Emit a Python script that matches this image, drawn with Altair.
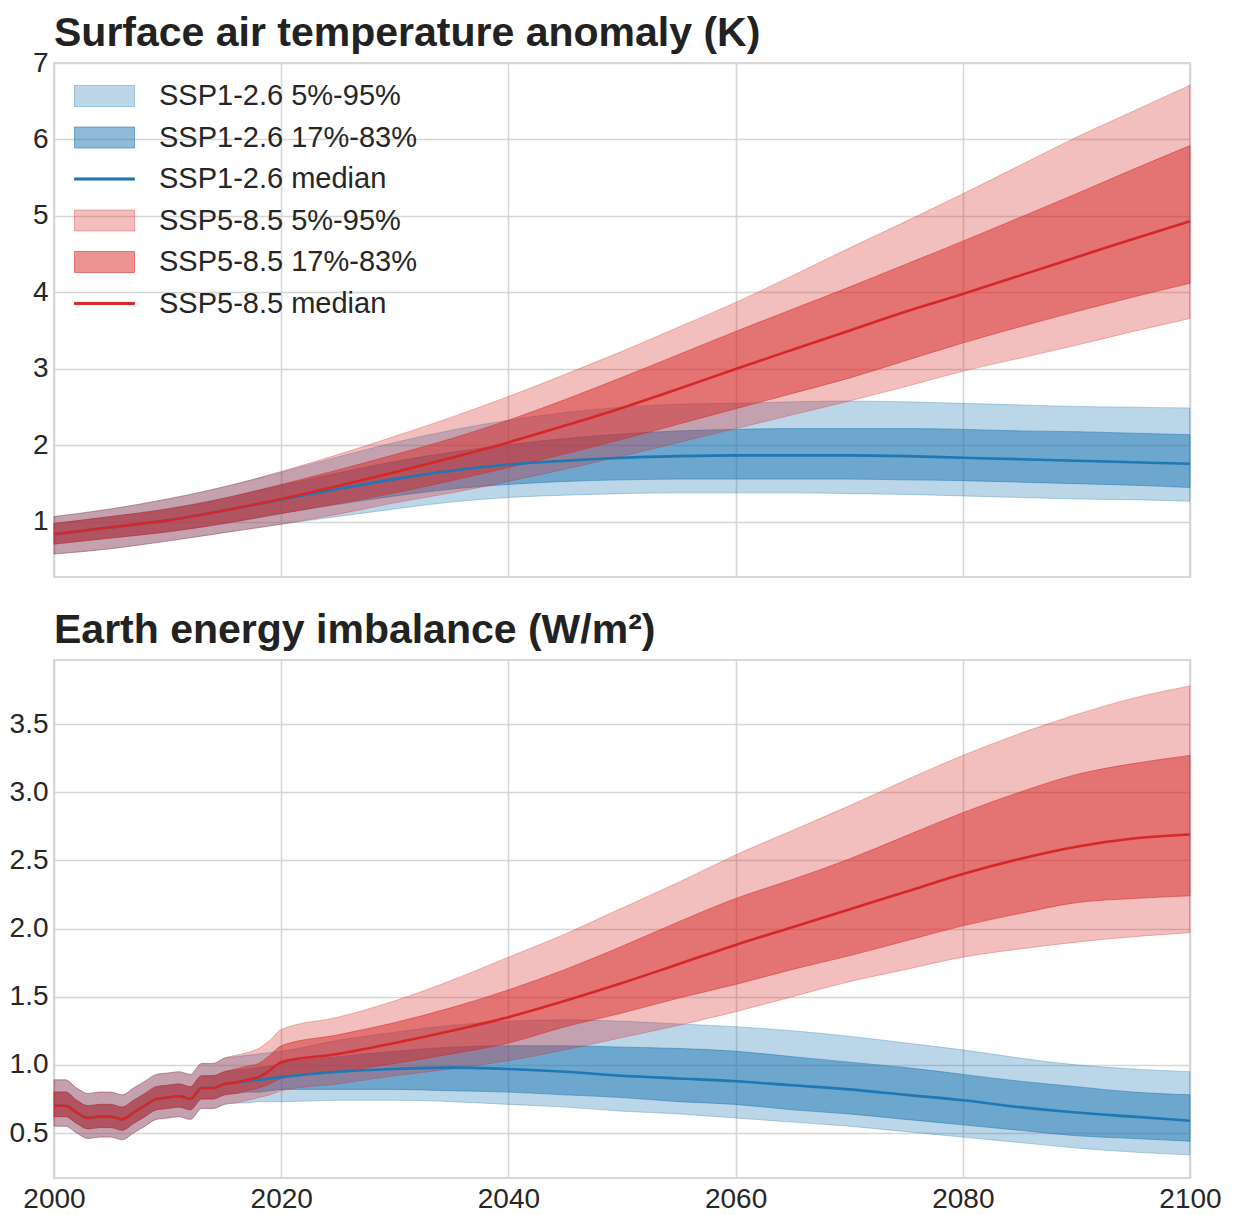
import altair as alt
import pandas as pd

FONT = "Liberation Sans"
BLUE = "#1f77b4"
RED = "#d62728"

labels = ["SSP1-2.6 5%-95%", "SSP1-2.6 17%-83%", "SSP1-2.6 median",
          "SSP5-8.5 5%-95%", "SSP5-8.5 17%-83%", "SSP5-8.5 median"]

# ---- Surface air temperature anomaly (K) ----
years_tas = [2000, 2005, 2010, 2015, 2020, 2025, 2030, 2035, 2040, 2045, 2050,
             2055, 2060, 2065, 2070, 2075, 2080, 2085, 2090, 2095, 2100]
tas_126_p05 = [0.58, 0.65, 0.75, 0.86, 0.97, 1.07, 1.17, 1.26, 1.32, 1.35, 1.37, 1.38, 1.38, 1.38, 1.37, 1.36, 1.34, 1.32, 1.30, 1.29, 1.27]
tas_126_p17 = [0.71, 0.79, 0.87, 0.98, 1.11, 1.23, 1.34, 1.43, 1.49, 1.53, 1.55, 1.56, 1.56, 1.56, 1.56, 1.55, 1.54, 1.52, 1.50, 1.48, 1.45]
tas_126_p50 = [0.84, 0.93, 1.02, 1.15, 1.29, 1.43, 1.56, 1.67, 1.75, 1.80, 1.84, 1.86, 1.87, 1.87, 1.87, 1.86, 1.84, 1.82, 1.80, 1.78, 1.76]
tas_126_p83 = [0.98, 1.07, 1.17, 1.31, 1.48, 1.64, 1.79, 1.91, 2.01, 2.09, 2.15, 2.19, 2.21, 2.22, 2.22, 2.22, 2.21, 2.19, 2.18, 2.16, 2.14]
tas_126_p95 = [1.07, 1.17, 1.30, 1.46, 1.65, 1.85, 2.04, 2.20, 2.33, 2.43, 2.50, 2.54, 2.55, 2.57, 2.58, 2.57, 2.55, 2.53, 2.51, 2.50, 2.49]

tas_585_p05 = [0.58, 0.65, 0.75, 0.86, 0.97, 1.10, 1.25, 1.38, 1.53, 1.69, 1.86, 2.04, 2.22, 2.40, 2.58, 2.77, 2.97, 3.14, 3.31, 3.49, 3.66]
tas_585_p17 = [0.71, 0.79, 0.87, 0.98, 1.11, 1.24, 1.38, 1.54, 1.71, 1.89, 2.08, 2.28, 2.48, 2.68, 2.88, 3.11, 3.34, 3.55, 3.75, 3.94, 4.12]
tas_585_p50 = [0.84, 0.93, 1.02, 1.15, 1.30, 1.47, 1.65, 1.84, 2.04, 2.26, 2.49, 2.74, 3.00, 3.25, 3.50, 3.75, 3.98, 4.22, 4.46, 4.70, 4.93]
tas_585_p83 = [0.98, 1.07, 1.17, 1.31, 1.49, 1.68, 1.88, 2.09, 2.33, 2.60, 2.89, 3.19, 3.49, 3.78, 4.07, 4.37, 4.67, 4.98, 5.29, 5.61, 5.92]
tas_585_p95 = [1.07, 1.17, 1.30, 1.46, 1.66, 1.88, 2.12, 2.37, 2.64, 2.93, 3.23, 3.55, 3.87, 4.22, 4.58, 4.93, 5.29, 5.66, 6.03, 6.37, 6.71]

# ---- Earth energy imbalance (W/m2) ----
years_eei = [2000, 2001, 2002, 2003, 2004, 2005, 2006, 2007, 2008, 2009, 2010,
             2011, 2012, 2013, 2014, 2015, 2016, 2017, 2018, 2019, 2020,
             2025, 2030, 2035, 2040, 2045, 2050, 2055, 2060, 2065, 2070,
             2075, 2080, 2085, 2090, 2095, 2100]
eei_585_p05 = [0.55, 0.55, 0.50, 0.46, 0.47, 0.47, 0.45, 0.50, 0.55, 0.60, 0.61, 0.62, 0.60, 0.68, 0.68, 0.71, 0.72, 0.74, 0.76, 0.78, 0.81,
               0.86, 0.92, 0.97, 1.03, 1.11, 1.20, 1.29, 1.39, 1.50, 1.61, 1.70, 1.79, 1.85, 1.90, 1.94, 1.97]
eei_585_p17 = [0.62, 0.62, 0.57, 0.53, 0.54, 0.54, 0.52, 0.57, 0.62, 0.67, 0.68, 0.69, 0.67, 0.75, 0.75, 0.78, 0.79, 0.81, 0.83, 0.86, 0.90,
               0.95, 1.01, 1.08, 1.16, 1.28, 1.38, 1.49, 1.59, 1.70, 1.80, 1.91, 2.02, 2.11, 2.19, 2.22, 2.24]
eei_585_p50 = [0.70, 0.70, 0.65, 0.61, 0.62, 0.62, 0.60, 0.65, 0.70, 0.75, 0.76, 0.77, 0.75, 0.83, 0.83, 0.86, 0.87, 0.89, 0.91, 0.96, 1.02,
               1.08, 1.16, 1.25, 1.35, 1.47, 1.60, 1.74, 1.88, 2.01, 2.14, 2.27, 2.40, 2.51, 2.60, 2.66, 2.69]
eei_585_p83 = [0.80, 0.80, 0.74, 0.70, 0.71, 0.71, 0.69, 0.74, 0.79, 0.84, 0.85, 0.86, 0.84, 0.92, 0.92, 0.95, 0.97, 0.99, 1.01, 1.07, 1.14,
               1.22, 1.31, 1.42, 1.55, 1.70, 1.87, 2.05, 2.22, 2.36, 2.51, 2.68, 2.85, 3.00, 3.13, 3.21, 3.27]
eei_585_p95 = [0.89, 0.89, 0.83, 0.79, 0.80, 0.80, 0.78, 0.83, 0.88, 0.93, 0.94, 0.95, 0.93, 1.01, 1.01, 1.05, 1.07, 1.09, 1.12, 1.18, 1.26,
               1.35, 1.47, 1.62, 1.79, 1.96, 2.15, 2.34, 2.54, 2.72, 2.90, 3.09, 3.27, 3.43, 3.57, 3.69, 3.78]

eei_126_p05 = [0.55, 0.55, 0.50, 0.46, 0.47, 0.47, 0.45, 0.50, 0.55, 0.60, 0.61, 0.62, 0.60, 0.68, 0.68, 0.71, 0.72, 0.72, 0.73, 0.73, 0.73,
               0.74, 0.74, 0.73, 0.71, 0.69, 0.66, 0.64, 0.61, 0.58, 0.55, 0.51, 0.47, 0.43, 0.39, 0.36, 0.34]
eei_126_p17 = [0.62, 0.62, 0.57, 0.53, 0.54, 0.54, 0.52, 0.57, 0.62, 0.67, 0.68, 0.69, 0.67, 0.75, 0.75, 0.78, 0.79, 0.80, 0.80, 0.81, 0.82,
               0.82, 0.82, 0.81, 0.80, 0.78, 0.76, 0.73, 0.71, 0.67, 0.64, 0.60, 0.56, 0.52, 0.48, 0.46, 0.44]
eei_126_p50 = [0.70, 0.70, 0.65, 0.61, 0.62, 0.62, 0.60, 0.65, 0.70, 0.75, 0.76, 0.77, 0.75, 0.83, 0.83, 0.86, 0.87, 0.88, 0.89, 0.90, 0.91,
               0.95, 0.97, 0.98, 0.97, 0.95, 0.92, 0.90, 0.88, 0.85, 0.82, 0.78, 0.74, 0.69, 0.65, 0.62, 0.59]
eei_126_p83 = [0.80, 0.80, 0.74, 0.70, 0.71, 0.71, 0.69, 0.74, 0.79, 0.84, 0.85, 0.86, 0.84, 0.92, 0.92, 0.95, 0.96, 0.97, 0.98, 0.99, 1.01,
               1.06, 1.10, 1.13, 1.14, 1.14, 1.13, 1.12, 1.10, 1.06, 1.02, 0.98, 0.93, 0.88, 0.84, 0.80, 0.78]
eei_126_p95 = [0.89, 0.89, 0.83, 0.79, 0.80, 0.80, 0.78, 0.83, 0.88, 0.93, 0.94, 0.95, 0.93, 1.01, 1.01, 1.05, 1.06, 1.07, 1.08, 1.09, 1.10,
               1.18, 1.24, 1.29, 1.32, 1.33, 1.32, 1.30, 1.28, 1.25, 1.21, 1.16, 1.11, 1.05, 1.00, 0.97, 0.95]

x_ticks = [2000, 2020, 2040, 2060, 2080, 2100]
tas_ticks = [1, 2, 3, 4, 5, 6, 7]
eei_ticks = [0.5, 1.0, 1.5, 2.0, 2.5, 3.0, 3.5]

legend_fills = ["rgba(31,119,180,0.3)", "rgba(31,119,180,0.5)", BLUE,
                "rgba(214,39,40,0.3)", "rgba(214,39,40,0.5)", RED]
legend_strokes = ["rgba(31,119,180,0.35)", "rgba(31,119,180,0.55)", BLUE,
                  "rgba(214,39,40,0.35)", "rgba(214,39,40,0.55)", RED]
RECT = "M-1,-0.35L1,-0.35L1,0.35L-1,0.35Z"
LINE = "M-1,-0.035L1,-0.035L1,0.035L-1,0.035Z"
legend_shapes = [RECT, RECT, LINE, RECT, RECT, LINE]


def frame(years, p05, p17, p50, p83, p95):
    return pd.DataFrame({"year": years, "p05": p05, "p17": p17,
                         "p50": p50, "p83": p83, "p95": p95})


def panel(df1, df5, title, ydomain, yticks, yfmt, show_x, height,
          with_legend, title_offset):
    xenc = alt.X("year:Q",
                 scale=alt.Scale(domain=[2000, 2100], nice=False, zero=False),
                 axis=alt.Axis(values=x_ticks, format="d", labels=show_x,
                               title=None, labelPadding=7, labelFlush=False))
    yscale = alt.Scale(domain=ydomain, nice=False, zero=False)
    yaxis = alt.Axis(values=yticks, format=yfmt, title=None, labelPadding=6)

    def band(df, lo, hi, color, op):
        return alt.Chart(df).mark_area(
            fill=color, fillOpacity=op, stroke=color, strokeOpacity=op,
            strokeWidth=1, opacity=1, interpolate="monotone"
        ).encode(x=xenc, y=alt.Y(f"{lo}:Q", scale=yscale, axis=yaxis),
                 y2=alt.Y2(f"{hi}:Q"))

    def median(df, color):
        return alt.Chart(df).mark_line(color=color, strokeWidth=2.6,
                                       interpolate="monotone").encode(
            x=xenc, y=alt.Y("p50:Q", scale=yscale, axis=yaxis))

    layers = [band(df1, "p05", "p95", BLUE, 0.3),
              band(df1, "p17", "p83", BLUE, 0.5),
              band(df5, "p05", "p95", RED, 0.3),
              band(df5, "p17", "p83", RED, 0.5),
              median(df1, BLUE),
              median(df5, RED)]
    if with_legend:
        leg = dict(orient="none", legendX=20, legendY=18, title=None,
                   labelFont=FONT, labelFontSize=29, labelColor="#262626",
                   labelOffset=24, symbolSize=3600, symbolStrokeWidth=1,
                   clipHeight=30, rowPadding=11.5, padding=0, labelLimit=800)
        legend_df = pd.DataFrame({"label": labels})
        layers.append(
            alt.Chart(legend_df).transform_filter("false")
            .mark_point(filled=True, opacity=1)
            .encode(
                fill=alt.Fill("label:N", scale=alt.Scale(domain=labels, range=legend_fills),
                              legend=alt.Legend(**leg)),
                stroke=alt.Stroke("label:N", scale=alt.Scale(domain=labels, range=legend_strokes),
                                  legend=alt.Legend(**leg)),
                shape=alt.Shape("label:N", scale=alt.Scale(domain=labels, range=legend_shapes),
                                legend=alt.Legend(**leg)),
            )
        )
    return alt.layer(*layers).properties(
        width=1136, height=height,
        title=alt.TitleParams(text=title, anchor="start", frame="group",
                              offset=title_offset))


tas_126 = frame(years_tas, tas_126_p05, tas_126_p17, tas_126_p50, tas_126_p83, tas_126_p95)
tas_585 = frame(years_tas, tas_585_p05, tas_585_p17, tas_585_p50, tas_585_p83, tas_585_p95)
eei_126 = frame(years_eei, eei_126_p05, eei_126_p17, eei_126_p50, eei_126_p83, eei_126_p95)
eei_585 = frame(years_eei, eei_585_p05, eei_585_p17, eei_585_p50, eei_585_p83, eei_585_p95)

top = panel(tas_126, tas_585, "Surface air temperature anomaly (K)",
            [0.28, 7.0], tas_ticks, "d", False, 514, True, -6)
bottom = panel(eei_126, eei_585, "Earth energy imbalance (W/m²)",
               [0.17, 3.97], eei_ticks, ".1f", True, 518, False, 8)

chart = (
    alt.vconcat(top, bottom, spacing=31)
    .resolve_scale(fill="independent", stroke="independent", shape="independent")
    .properties(padding={"left": 0, "top": 4, "right": 4, "bottom": 0})
    .configure(font=FONT)
    .configure_view(stroke="#cccccc", strokeWidth=1.6)
    .configure_axis(grid=True, gridColor="#d6d6d6", gridWidth=1.6, ticks=False,
                    domain=False, labelFont=FONT, labelFontSize=28,
                    labelColor="#262626")
    .configure_title(font=FONT, fontSize=41, fontWeight="bold", color="#222222")
)

chart.save("out.html", embed_options={"renderer": "svg", "actions": False})
